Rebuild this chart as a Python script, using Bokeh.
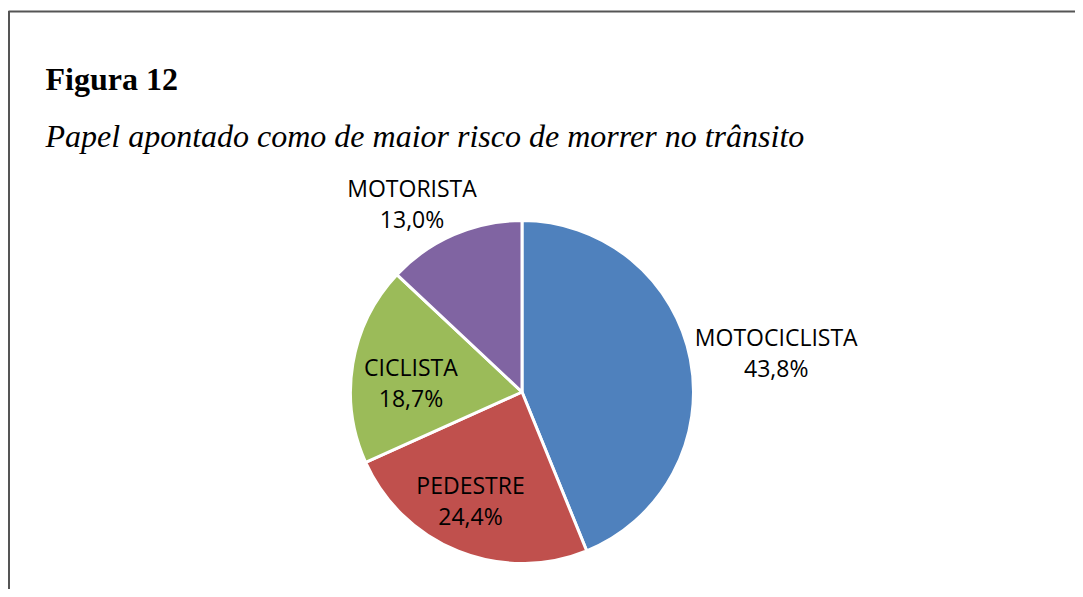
import math
from bokeh.plotting import figure
from bokeh.models import Range1d, ColumnDataSource
from bokeh.core.properties import value
from bokeh.embed import file_html
from bokeh.resources import INLINE

# ---- data ----
categories = ["MOTOCICLISTA", "PEDESTRE", "CICLISTA", "MOTORISTA"]
percents = [43.8, 24.4, 18.7, 13.0]
pct_labels = ["43,8%", "24,4%", "18,7%", "13,0%"]
colors = ["#4F81BD", "#C0504D", "#9BBB59", "#8064A2"]
title_text = "Figura 12"
subtitle_text = "Papel apontado como de maior risco de morrer no trânsito"

# ---- layout / style ----
W, H = 1075, 589
cx, cy, R = 521.5, 197.5, 171.5
label_radius = [1.50, 0.70, 0.65, 1.27]
label_angle_tweak = [2.3, 3.6, -4.5, -6.9]  # degrees
line_gap = 15.5
label_font = value("Open Sans")
label_size = "23px"

p = figure(width=W, height=H, output_backend="svg", toolbar_location=None,
           x_range=Range1d(0, W), y_range=Range1d(0, H), min_border=0,
           outline_line_color=None, background_fill_color="white",
           border_fill_color="white")
p.axis.visible = False
p.grid.visible = False

total = sum(percents)
starts, ends, lx, ly = [], [], [], []
cum = 0.0
for i, v in enumerate(percents):
    f0 = cum / total
    cum += v
    f1 = cum / total
    starts.append(math.pi / 2 - 2 * math.pi * f0)
    ends.append(math.pi / 2 - 2 * math.pi * f1)
    mid_cw = math.degrees(2 * math.pi * (f0 + f1) / 2) + label_angle_tweak[i]
    a = math.radians(mid_cw)
    r = R * label_radius[i]
    lx.append(cx + r * math.sin(a))
    ly.append(cy + r * math.cos(a))

src = ColumnDataSource(dict(start=starts, end=ends, color=colors,
                            cat=categories, pct=pct_labels,
                            lx=lx, ly_top=[y + line_gap for y in ly],
                            ly_bot=[y - line_gap for y in ly]))

p.wedge(x=cx, y=cy, radius=R, radius_units="screen",
        start_angle="start", end_angle="end", direction="clock",
        fill_color="color", line_color="white", line_width=3, source=src)

p.text(x="lx", y="ly_top", text="cat", source=src, text_font=label_font,
       text_font_size=label_size, text_align="center", text_baseline="middle",
       text_color="black")
p.text(x="lx", y="ly_bot", text="pct", source=src, text_font=label_font,
       text_font_size=label_size, text_align="center", text_baseline="middle",
       text_color="black")

# title texts
p.text(x=[45], y=[510.5], text=[title_text], text_font=value("Liberation Serif"),
       text_font_size="32px", text_font_style="bold", text_align="left",
       text_baseline="alphabetic", text_color="black")
p.text(x=[45], y=[454], text=[subtitle_text], text_font=value("Liberation Serif"),
       text_font_size="32px", text_font_style="italic", text_align="left",
       text_baseline="alphabetic", text_color="black")

# frame border (left and top)
p.line(x=[8.5, 8.5], y=[0, 578.5], line_color="#555555", line_width=2)
p.line(x=[8, W], y=[578, 578], line_color="#555555", line_width=2)

open("out.html", "w").write(file_html(p, INLINE))
